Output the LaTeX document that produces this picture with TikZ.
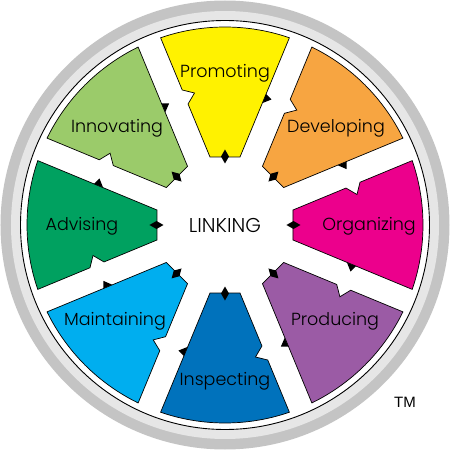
\documentclass[tikz,border=0pt]{standalone}
\usepackage{fontspec}
\setmainfont{Poppins Light}
\setsansfont{Liberation Sans}
\definecolor{cPromo}{HTML}{FFF200}
\definecolor{cDev}{HTML}{F7A541}
\definecolor{cOrg}{HTML}{EC008C}
\definecolor{cProd}{HTML}{9B5BA5}
\definecolor{cInsp}{HTML}{0072BC}
\definecolor{cMaint}{HTML}{00AEEF}
\definecolor{cAdv}{HTML}{00A160}
\definecolor{cInno}{HTML}{9BCB6A}
\definecolor{ringdark}{HTML}{C4C4C4}
\definecolor{ringlight}{HTML}{E6E6E6}
\tikzset{
  sectorshape/.style={draw=black, line width=0.7pt, line join=miter},
  label/.style={font=\fontsize{17.5}{20}\selectfont, inner sep=0pt, text=black},
}
\begin{document}
\begin{tikzpicture}
\useasboundingbox (-225pt,-225pt) rectangle (225pt,225pt);
\fill[ringdark] (0,0) circle (224.5pt);
\fill[ringlight] (0,0) circle (214pt);
\fill[white] (0,0) circle (204.5pt);
\draw[black, line width=0.9pt] (0,0) circle (204.5pt);
\foreach \a/\c in {90/cPromo,45/cDev,0/cOrg,-45/cProd,-90/cInsp,-135/cMaint,180/cAdv,135/cInno}{
  \begin{scope}[rotate=\a]
    \filldraw[sectorshape, fill=\c] (68pt,-15pt) -- (68pt,15pt) -- (121pt,36.95pt) -- (132pt,30.5pt) -- (135pt,42.75pt) -- (18.98:198pt) arc[start angle=18.98, end angle=-18.98, radius=198pt] -- cycle;
    \fill[black] (122pt,-37.6pt) -- (131pt,-41.1pt) -- (125.5pt,-46.5pt) -- cycle;
    \fill[black] (61.5pt,0pt) -- (68.5pt,4pt) -- (75.5pt,0pt) -- (68.5pt,-4pt) -- cycle;
  \end{scope}
}
\node[label] (promo) at (0pt,152pt) {Promoting};
\node[label] (dev) at (111pt,97pt) {Developing};
\node[label] (org) at (144pt,-1pt) {Organizing};
\node[label] (prod) at (110pt,-96pt) {Producing};
\node[label] (insp) at (0pt,-156pt) {Inspecting};
\node[label] (maint) at (-110pt,-96pt) {Maintaining};
\node[label] (adv) at (-143pt,-1pt) {Advising};
\node[label] (inno) at (-108pt,97pt) {Innovating};
\node[label, font=\fontsize{20}{22}\selectfont] (link) at (0pt,-1pt) {LINKING};
\node[font=\sffamily\fontsize{15}{17}\selectfont, inner sep=0pt] (tm) at (180pt,-177pt) {TM};
\end{tikzpicture}
\end{document}
